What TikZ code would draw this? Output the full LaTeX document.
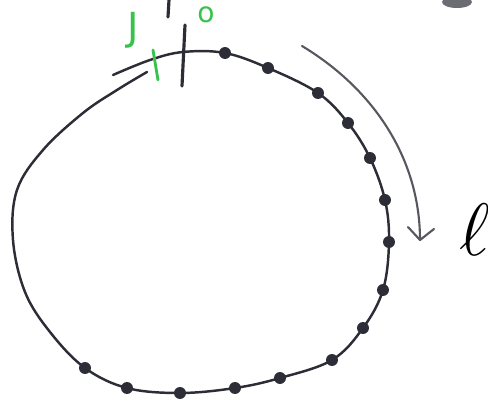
\documentclass[tikz,border=0pt]{standalone}
\usepackage{fontspec}
\newfontfamily\handfont{DejaVu Sans}
\definecolor{ink}{RGB}{45,45,55}
\definecolor{pen}{RGB}{55,195,75}
\tikzset{
  px/.style={x=0.02cm,y=-0.02cm},
  stroke/.style={draw=ink,line width=1.4pt,line cap=round,line join=round},
  thinstroke/.style={draw=ink!80,line width=1.2pt,line cap=round,line join=round},
  bead/.style={circle,fill=ink,inner sep=0pt,minimum size=6.8pt},
  greenmark/.style={draw=pen,line width=1.6pt,line cap=round},
  greentext/.style={text=pen,font=\handfont},
}
\begin{document}
\begin{tikzpicture}[px]
\useasboundingbox (0,0) rectangle (488,402);
% main closed loop (slightly overlapping at the top left)
\draw[stroke] plot[smooth,tension=0.6] coordinates {
 (113,75) (150,60) (183,52) (225,53) (268,68) (318,93) (348,123) (370,158)
 (385,200) (389,242) (383,290) (363,328) (332,360) (280,378) (235,388)
 (180,393) (127,388) (85,368) (50,332) (25,292) (13,240) (17,190)
 (43,150) (83,113) (117,90) (147,72)};
% beads
\foreach \p [count=\i] in {(225,53),(268,68),(318,93),(348,123),(370,158),
 (385,200),(389,242),(383,290),(363,328),(332,360),(280,378),(235,388),
 (180,393),(127,388),(85,368)}
  \node[bead] (b\i) at \p {};
% direction arrow
\coordinate (a0) at (302,46);
\coordinate (a1) at (420,240);
\draw[thinstroke] (a0) .. controls (375,90) and (420,160) .. (a1);
\coordinate (h1) at (408,227);
\coordinate (h2) at (434,229);
\draw[thinstroke] (h1) -- (a1) -- (h2);
\node[scale=1.7,inner sep=0pt] (ell) at (475,230) {\fontsize{24.88}{25}\selectfont$\ell$};
% cut marks
\coordinate (t1) at (185,25);
\coordinate (t2) at (182,86);
\draw[stroke,line width=1.8pt] (t1) -- (t2);
\coordinate (t3) at (169,0);
\coordinate (t4) at (168,17);
\draw[stroke,line width=1.8pt] (t3) -- (t4);
\coordinate (g1) at (153,50);
\coordinate (g2) at (158,80);
\draw[greenmark] (g1) -- (g2);
\node[greentext] (J) at (133,30) {\fontsize{22}{22}\selectfont J};
\node[greentext] (o) at (206,15) {\fontsize{16}{16}\selectfont o};
% fragment at the top right edge
\fill[ink!70] (457,2) ellipse [x radius=15, y radius=6];
\end{tikzpicture}
\end{document}
